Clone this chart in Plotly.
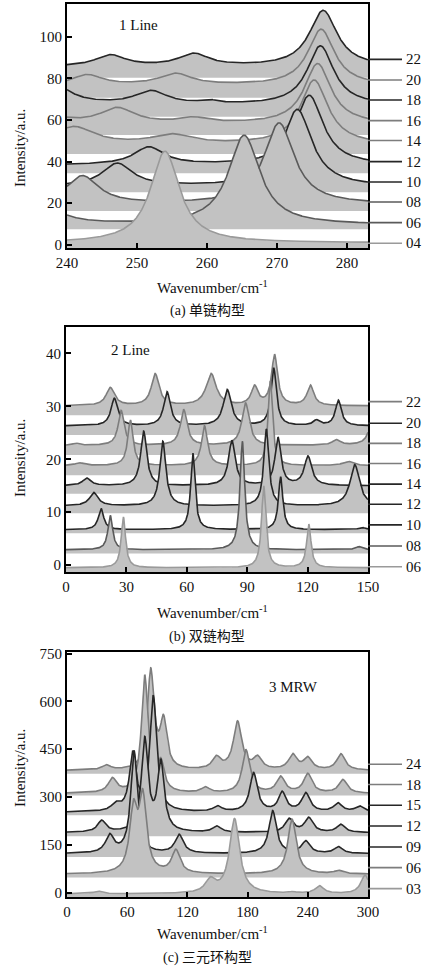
import numpy as np
import plotly.graph_objects as go

# ---------------- data ----------------
# Each spectrum = flat offset + list of peaks (centre cm^-1, height, half width)
# Panel (a) 1 Line
A_LABELS = ["04", "06", "08", "10", "12", "14", "16", "18", "20", "22"]
A_BASE = [1.0, 9.6, 19.5, 28.0, 38.3, 48.0, 58.0, 67.0, 76.5, 85.5]
A_FLOOR = [-1.5, 7.5, 16.3, 25.3, 34.4, 43.7, 52.8, 61.6, 70.7, 80.3]
A_LABEL_Y = [0.8, 10.7, 20.6, 30.2, 40.0, 50.1, 59.7, 69.6, 79.2, 89.1]
A_PEAKS = [
    [(254.0, 44, 2.5)],
    [(236.0, 12, 3.0), (265.3, 43, 2.7)],
    [(242.2, 13.5, 2.8), (270.3, 39, 2.6)],
    [(247.2, 11, 2.6), (272.9, 37, 2.5)],
    [(251.7, 8.5, 2.6), (274.6, 33.5, 2.4)],
    [(241.0, 8.5, 3.5), (255.0, 4.5, 3.5), (275.3, 31, 2.4)],
    [(238.0, 3, 3.0), (247.2, 7.5, 3.0), (258.1, 2.5, 2.5), (275.8, 29, 2.3)],
    [(237.5, 12, 3.0), (252.0, 6.5, 2.8), (260.3, 1.5, 1.5), (276.2, 28.5, 2.3)],
    [(242.9, 5.0, 2.6), (255.5, 5.5, 2.8), (276.3, 27, 2.3)],
    [(246.2, 5.5, 2.6), (258.1, 6.0, 2.6), (276.6, 27, 2.4)],
]

# Panel (b) 2 Line
B_LABELS = ["06", "08", "10", "12", "14", "16", "18", "20", "22"]
B_BASE = [-0.5, 2.9, 6.7, 11.2, 15.0, 18.8, 22.6, 26.3, 30.1]
B_FLOOR = [-1.3, 2.2, 6.0, 9.8, 13.5, 17.0, 20.8, 24.6, 28.3]
B_LABEL_Y = [-0.3, 3.6, 7.6, 11.5, 15.3, 19.2, 23.0, 26.8, 30.9]
B_PEAKS = [
    [(28.5, 9.6, 1.3), (98.2, 15.5, 1.3), (120.6, 8.2, 1.3)],
    [(22.0, 6.5, 1.4), (87.6, 20.5, 1.4), (145.5, 0.6, 2.0)],
    [(17.4, 4.0, 1.6), (63.0, 14.5, 1.3), (106.6, 10.0, 1.3), (147.0, 0.4, 2.0)],
    [(13.8, 2.5, 2.5), (48.1, 12.2, 1.8), (99.5, 14.5, 1.5), (143.4, 7.8, 2.8)],
    [(10.3, 1.4, 2.5), (38.6, 10.3, 1.8), (82.4, 8.5, 2.0), (105.3, 9.0, 1.8), (120.2, 5.5, 2.2)],
    [(6.6, 0.5, 2.5), (32.0, 8.6, 1.6), (68.8, 7.5, 1.8), (101.5, 16.0, 1.3), (140.0, 0.8, 3.0)],
    [(5.0, 0.4, 2.0), (27.4, 6.6, 1.8), (58.5, 6.7, 2.0), (89.2, 8.0, 2.2), (134.3, 1.0, 2.5), (153.0, 8.0, 2.0)],
    [(24.0, 5.2, 2.0), (50.2, 6.4, 2.0), (80.1, 6.8, 2.4), (103.2, 10.8, 1.6), (124.4, 1.0, 2.0), (135.3, 4.8, 1.8)],
    [(22.0, 3.4, 2.5), (44.3, 6.0, 2.3), (72.1, 6.0, 3.0), (93.7, 3.5, 2.0), (103.6, 9.5, 1.8), (121.4, 3.8, 2.0)],
]

# Panel (c) 3 MRW
C_LABELS = ["03", "06", "09", "12", "15", "18", "24"]
C_BASE = [-4.0, 58.0, 122.0, 188.0, 252.0, 311.0, 383.0]
C_FLOOR = [-13.8, 47.0, 112.0, 177.0, 243.0, 305.0, 373.0]
C_LABEL_Y = [12.5, 78.4, 143.0, 209.0, 274.0, 339.0, 402.6]
C_PEAKS = [
    [(31.0, 8, 5), (143.0, 40, 6), (167.0, 234, 6), (225.0, 4, 4), (251.6, 24, 5), (297.0, 58, 5)],
    [(66.2, 190, 4.5), (75.5, 230, 4.5), (108.5, 72, 5), (224.3, 172, 5), (270.5, 10, 5)],
    [(42.6, 55, 5), (66.9, 320, 4), (111.8, 58, 5), (205.0, 134, 4.5), (238.0, 38, 5), (270.5, 21, 5)],
    [(34.6, 36, 5), (77.5, 289, 4), (93.5, 215, 4), (149.4, 19, 5), (221.6, 42, 5), (241.0, 45, 5), (273.0, 25, 5)],
    [(48.6, 21, 5), (65.5, 177, 4), (86.0, 360, 4), (150.0, 17, 5), (186.0, 122, 4.5),
     (214.5, 60, 4.5), (238.0, 58, 5), (270.0, 27, 5), (291.5, 18, 5)],
    [(45.3, 44, 5), (77.5, 366, 4), (93.5, 90, 4), (138.0, 17, 5), (178.4, 135, 4.5),
     (213.0, 50, 5), (240.0, 60, 5), (275.0, 42, 5)],
    [(39.3, 15, 5), (83.5, 308, 4), (96.2, 147, 4), (149.0, 37, 5), (170.0, 150, 5),
     (190.0, 37, 5), (225.0, 47, 5), (240.0, 37, 5), (273.0, 51, 5)],
]

# ---------------- styles ----------------
DARK = "#262626"
MID = "#5a5a5a"
GRAY = "#7d7d7d"
LIGHT = "#9a9a9a"
FILL = "#c2c2c2"
A_COLORS = [LIGHT, MID, MID, DARK, DARK, GRAY, GRAY, DARK, GRAY, DARK]
B_COLORS = [LIGHT, MID, DARK, DARK, DARK, GRAY, GRAY, DARK, GRAY]
C_COLORS = [LIGHT, GRAY, DARK, DARK, DARK, GRAY, GRAY]

W, H = 431, 969
SERIF = "Liberation Serif"
CJK = "Liberation Serif, Noto Sans CJK SC"

PANELS = [
    dict(ax="", xr=[240, 283], yr=[-1.5, 115.7], px=(67, 368), py=(4, 248),
         xt=[240, 250, 260, 270, 280], yt=[0, 20, 40, 60, 80, 100],
         labels=A_LABELS, base=A_BASE, floor=A_FLOOR, ly=A_LABEL_Y, peaks=A_PEAKS, colors=A_COLORS,
         tag="1 Line", tagpos=(138, 25), cap="(a) 单链构型", capy=311, xty=287, yty=148),
    dict(ax="2", xr=[0, 150], yr=[-1.3, 45], px=(66, 368), py=(327, 572),
         xt=[0, 30, 60, 90, 120, 150], yt=[0, 10, 20, 30, 40],
         labels=B_LABELS, base=B_BASE, floor=B_FLOOR, ly=B_LABEL_Y, peaks=B_PEAKS, colors=B_COLORS,
         tag="2 Line", tagpos=(130, 350), cap="(b) 双链构型", capy=637, xty=612, yty=458),
    dict(ax="3", xr=[0, 300], yr=[-13.8, 755], px=(67, 368), py=(652, 897),
         xt=[0, 60, 120, 180, 240, 300], yt=[0, 150, 300, 450, 600, 750],
         labels=C_LABELS, base=C_BASE, floor=C_FLOOR, ly=C_LABEL_Y, peaks=C_PEAKS, colors=C_COLORS,
         tag="3 MRW", tagpos=(293, 687), cap="(c) 三元环构型", capy=958, xty=933, yty=768),
]


def spectrum(x, base, peaks):
    y = np.full_like(x, base, dtype=float)
    for c, h, g in peaks:
        y += h * g * g / ((x - c) ** 2 + g * g)
    return y


def txt(text, x, y, size=15, family=SERIF, **kw):
    d = dict(text=text, xref="paper", yref="paper", x=x / W, y=1 - y / H,
             xanchor="center", yanchor="middle", showarrow=False,
             font=dict(family=family, size=size, color="#111"))
    d.update(kw)
    return d


fig = go.Figure()
shapes, annos = [], []
layout = {}

for p in PANELS:
    ax = p["ax"]
    xname, yname = "x" + ax, "y" + ax
    x = np.linspace(p["xr"][0], p["xr"][1], 900)
    n = len(p["labels"])
    # draw the top spectrum first so lower ones sit in front
    for i in reversed(range(n)):
        y = spectrum(x, p["base"][i], p["peaks"][i])
        fl = p["floor"][i]
        fig.add_trace(go.Scatter(
            x=np.concatenate([x, x[::-1]]),
            y=np.concatenate([y, np.full_like(x, fl)]),
            fill="toself", fillcolor=FILL, mode="none",
            xaxis=xname, yaxis=yname, hoverinfo="skip", showlegend=False))
        fig.add_trace(go.Scatter(
            x=x, y=y, mode="lines", line=dict(color=p["colors"][i], width=1.6),
            xaxis=xname, yaxis=yname, showlegend=False, name=p["labels"][i]))
        # leader line + label on the right
        shapes.append(dict(type="line", xref="paper", yref=yname,
                           x0=p["px"][1] / W, x1=402 / W, y0=p["ly"][i], y1=p["ly"][i],
                           line=dict(color=p["colors"][i], width=1.6)))
        annos.append(dict(text=p["labels"][i], xref="paper", yref=yname,
                          x=404 / W, y=p["ly"][i], xanchor="left", yanchor="middle",
                          showarrow=False, font=dict(family=SERIF, size=15, color="#111")))
    axis_common = dict(showline=True, linecolor="black", linewidth=2, mirror=True,
                       ticks="inside", ticklen=5, tickwidth=2, tickcolor="black",
                       showgrid=False, zeroline=False, automargin=False,
                       tickfont=dict(family=SERIF, size=15, color="#111"))
    layout["xaxis" + ax] = dict(axis_common, range=p["xr"], tickvals=p["xt"],
                                domain=[p["px"][0] / W, p["px"][1] / W], anchor=yname)
    layout["yaxis" + ax] = dict(axis_common, range=p["yr"], tickvals=p["yt"],
                                domain=[1 - p["py"][1] / H, 1 - p["py"][0] / H], anchor=xname)
    # texts
    annos.append(txt(p["tag"], p["tagpos"][0], p["tagpos"][1]))
    annos.append(txt("Wavenumber/cm<sup>-1</sup>", 212, p["xty"]))
    annos.append(txt(p["cap"], 207, p["capy"], size=14, family=CJK))
    annos.append(txt("Intensity/a.u.", 20, p["yty"], textangle=-90))

fig.update_layout(template="none", width=W, height=H, margin=dict(l=0, r=0, t=0, b=0),
                  paper_bgcolor="white", plot_bgcolor="white",
                  shapes=shapes, annotations=annos, showlegend=False, **layout)
fig.write_html("out.html", config={"displayModeBar": False},
               post_script="document.body.style.margin='0';document.body.style.overflow='hidden';")
